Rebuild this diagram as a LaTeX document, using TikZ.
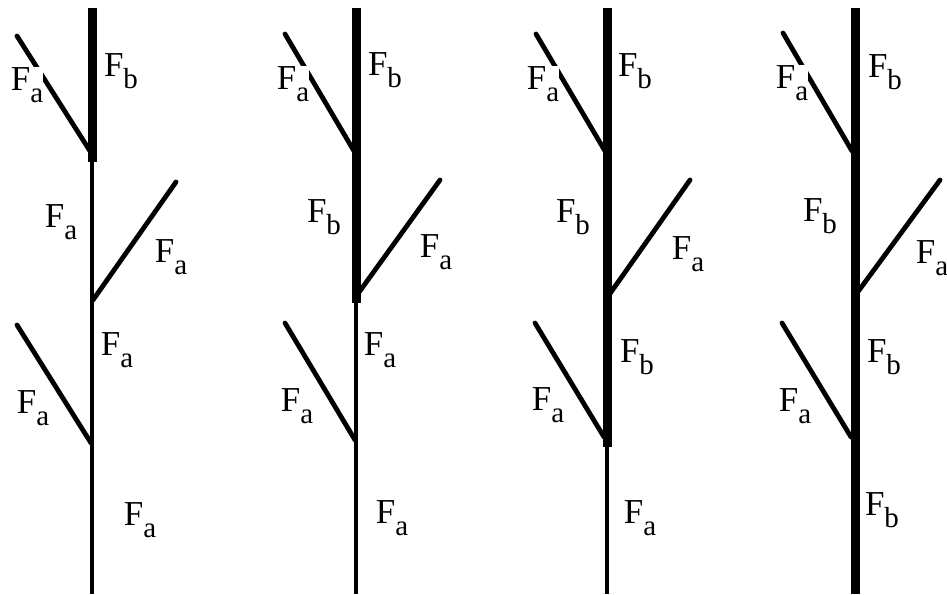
\documentclass[tikz,border=0pt]{standalone}
\usepackage{fontspec}
\setmainfont{Liberation Serif}
\newcommand{\Flab}[1]{F\raisebox{-12pt}{\fontsize{29}{29}\selectfont #1}}

\begin{document}
\begin{tikzpicture}[
  x = 1pt, y = -1pt,
  % line styles
  stemthin/.style  = {line width=3.2pt},
  stemthick/.style = {line width=9pt},
  twig/.style      = {line width=4.8pt, line cap=round},
  % label styles
  lbl/.style = {inner sep=0pt, font=\fontsize{35}{40}\selectfont},
  cut/.style = {lbl, fill=white},
]
\useasboundingbox (0,0) rectangle (947,594);

%% Stem 1
\coordinate (s1top) at (92,8);
\coordinate (s1mid) at (92,162);
\coordinate (s1bot) at (92,594);
\coordinate (t1a) at (17,36);   \coordinate (j1a) at (90,151);
\coordinate (j1b) at (93,300);  \coordinate (t1b) at (176,182);
\coordinate (t1c) at (17,325);  \coordinate (j1c) at (91,443);
\draw[twig] (t1a) -- (j1a);
\draw[twig] (j1b) -- (t1b);
\draw[twig] (t1c) -- (j1c);
\draw[stemthin]  (s1top) -- (s1bot);
\draw[stemthick] (s1top) -- (s1mid);
\node[cut] (l1a) at (27,85)  {\Flab{a}};
\node[lbl] (l1b) at (121,71) {\Flab{b}};
\node[lbl] (l1c) at (61,222) {\Flab{a}};
\node[lbl] (l1d) at (171,257) {\Flab{a}};
\node[lbl] (l1e) at (117,350) {\Flab{a}};
\node[lbl] (l1f) at (33,408) {\Flab{a}};
\node[lbl] (l1g) at (140,520) {\Flab{a}};

%% Stem 2
\coordinate (s2top) at (356,8);
\coordinate (s2mid) at (356,303);
\coordinate (s2bot) at (356,594);
\coordinate (t2a) at (285,34);  \coordinate (j2a) at (354,151);
\coordinate (j2b) at (357,295); \coordinate (t2b) at (440,180);
\coordinate (t2c) at (285,323); \coordinate (j2c) at (355,440);
\draw[twig] (t2a) -- (j2a);
\draw[twig] (j2b) -- (t2b);
\draw[twig] (t2c) -- (j2c);
\draw[stemthin]  (s2top) -- (s2bot);
\draw[stemthick] (s2top) -- (s2mid);
\node[cut] (l2a) at (293,84)  {\Flab{a}};
\node[lbl] (l2b) at (385,70)  {\Flab{b}};
\node[lbl] (l2c) at (324,217) {\Flab{b}};
\node[lbl] (l2d) at (436,252) {\Flab{a}};
\node[lbl] (l2e) at (380,350) {\Flab{a}};
\node[lbl] (l2f) at (297,406) {\Flab{a}};
\node[lbl] (l2g) at (392,518) {\Flab{a}};

%% Stem 3
\coordinate (s3top) at (607,8);
\coordinate (s3mid) at (607,447);
\coordinate (s3bot) at (607,594);
\coordinate (t3a) at (536,34);  \coordinate (j3a) at (605,151);
\coordinate (j3b) at (609,295); \coordinate (t3b) at (690,180);
\coordinate (t3c) at (535,323); \coordinate (j3c) at (604,437);
\draw[twig] (t3a) -- (j3a);
\draw[twig] (j3b) -- (t3b);
\draw[twig] (t3c) -- (j3c);
\draw[stemthin]  (s3top) -- (s3bot);
\draw[stemthick] (s3top) -- (s3mid);
\node[cut] (l3a) at (543,84)  {\Flab{a}};
\node[lbl] (l3b) at (635,71)  {\Flab{b}};
\node[lbl] (l3c) at (573,217) {\Flab{b}};
\node[lbl] (l3d) at (688,254) {\Flab{a}};
\node[lbl] (l3e) at (637,357) {\Flab{b}};
\node[lbl] (l3f) at (548,405) {\Flab{a}};
\node[lbl] (l3g) at (640,518) {\Flab{a}};

%% Stem 4
\coordinate (s4top) at (855,8);
\coordinate (s4bot) at (855,594);
\coordinate (t4a) at (783,33);  \coordinate (j4a) at (852,151);
\coordinate (j4b) at (857,293); \coordinate (t4b) at (940,180);
\coordinate (t4c) at (782,323); \coordinate (j4c) at (851,437);
\draw[twig] (t4a) -- (j4a);
\draw[twig] (j4b) -- (t4b);
\draw[twig] (t4c) -- (j4c);
\draw[stemthick] (s4top) -- (s4bot);
\node[cut] (l4a) at (792,83)  {\Flab{a}};
\node[lbl] (l4b) at (885,72)  {\Flab{b}};
\node[lbl] (l4c) at (820,216) {\Flab{b}};
\node[lbl] (l4d) at (932,258) {\Flab{a}};
\node[lbl] (l4e) at (884,357) {\Flab{b}};
\node[lbl] (l4f) at (795,406) {\Flab{a}};
\node[lbl] (l4g) at (882,510) {\Flab{b}};

\end{tikzpicture}
\end{document}
